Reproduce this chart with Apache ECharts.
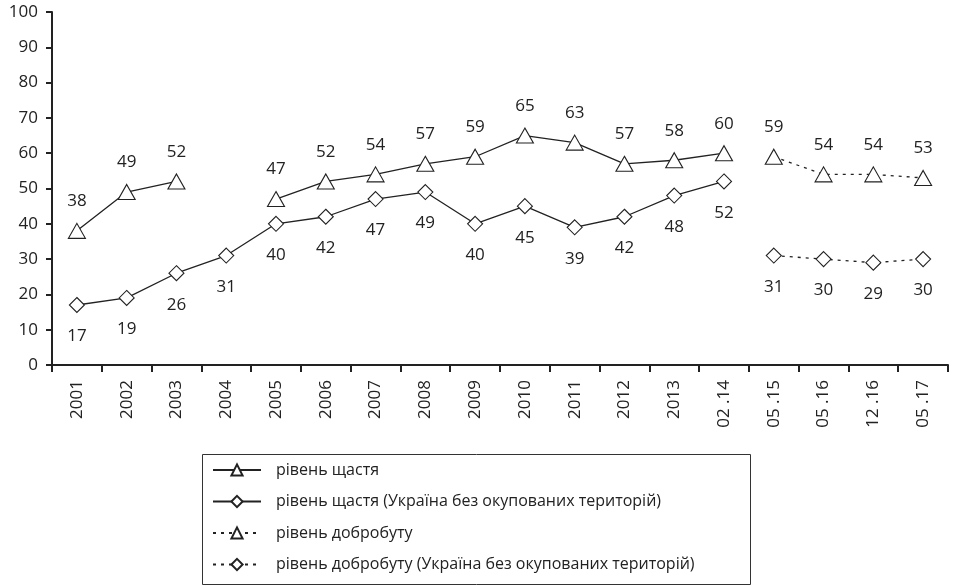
<!DOCTYPE html>
<html>
<head>
<meta charset="utf-8">
<script src="https://cdn.jsdelivr.net/npm/echarts@6/dist/echarts.min.js"></script>
<style>
  html, body { margin: 0; padding: 0; background: #fff; }
  #chart { width: 954px; height: 586px; }
</style>
</head>
<body>
<div id="chart"></div>
<script>
var categories = ["2001", "2002", "2003", "2004", "2005", "2006", "2007", "2008", "2009",
  "2010", "2011", "2012", "2013", "02 .14", "05 .15", "05 .16", "12 .16", "05 .17"];

// рівень щастя (solid, triangles)
var happiness = [38, 49, 52, null, 47, 52, 54, 57, 59, 65, 63, 57, 58, 60, null, null, null, null];
// рівень щастя (Україна без окупованих територій) (solid, diamonds)
var happinessNoOcc = [17, 19, 26, 31, 40, 42, 47, 49, 40, 45, 39, 42, 48, 52, null, null, null, null];
// рівень добробуту (dotted, triangles)
var wellbeing = [null, null, null, null, null, null, null, null, null, null, null, null, null, null, 59, 54, 54, 53];
// рівень добробуту (Україна без окупованих територій) (dotted, diamonds)
var wellbeingNoOcc = [null, null, null, null, null, null, null, null, null, null, null, null, null, null, 31, 30, 29, 30];

var seriesNames = [
  "рівень щастя",
  "рівень щастя (Україна без окупованих територій)",
  "рівень добробуту",
  "рівень добробуту (Україна без окупованих територій)"
];

var txt = "#222";
var font = "Open Sans";

function makeSeries(name, data, symbol, dotted, labelPos) {
  return {
    name: name,
    type: "line",
    data: data,
    connectNulls: false,
    symbol: symbol,
    symbolSize: symbol === "triangle" ? [17, 15] : 15,
    showAllSymbol: true,
    itemStyle: { color: "#fff", borderColor: "#222", borderWidth: 1.1 },
    lineStyle: { color: "#222", width: 1.3, type: dotted ? [3, 5] : "solid" },
    label: {
      show: true,
      position: labelPos,
      distance: labelPos === "top" ? 13 : 15,
      color: txt,
      fontFamily: font,
      fontSize: 17
    },
    emphasis: { disabled: true },
    animation: false
  };
}

var chart = echarts.init(document.getElementById("chart"));
var option = {
  backgroundColor: "#fff",
  animation: false,
  textStyle: { fontFamily: font },
  grid: { left: 52, right: 6, top: 12, bottom: 221, containLabel: false },
  // legend frame
  graphic: [{
    type: "rect",
    left: 200,
    top: 452,
    shape: { width: 548, height: 130 },
    style: { fill: "none", stroke: "#333", lineWidth: 1 },
    silent: true
  }],
  legend: {
    orient: "vertical",
    left: 200,
    top: 452,
    padding: [10, 12, 8, 12],
    itemWidth: 48,
    itemHeight: 14,
    itemGap: 15.5,
    data: seriesNames,
    textStyle: { color: txt, fontSize: 16, fontFamily: font, padding: [0, 0, 0, 10] }
  },
  xAxis: {
    type: "category",
    data: categories,
    boundaryGap: true,
    axisLine: { lineStyle: { color: "#222", width: 2 } },
    axisTick: { show: true, length: 7, lineStyle: { color: "#222", width: 2 } },
    axisLabel: { rotate: 90, color: txt, fontSize: 17, fontFamily: font, margin: 15, interval: 0 },
    splitLine: { show: false }
  },
  yAxis: {
    type: "value",
    min: 0,
    max: 100,
    interval: 10,
    axisLine: { show: true, lineStyle: { color: "#222", width: 2 } },
    axisTick: { show: true, length: 6, lineStyle: { color: "#222", width: 2 } },
    axisLabel: { color: txt, fontSize: 17, fontFamily: font, margin: 14 },
    splitLine: { show: false }
  },
  series: [
    makeSeries(seriesNames[0], happiness, "triangle", false, "top"),
    makeSeries(seriesNames[1], happinessNoOcc, "diamond", false, "bottom"),
    makeSeries(seriesNames[2], wellbeing, "triangle", true, "top"),
    makeSeries(seriesNames[3], wellbeingNoOcc, "diamond", true, "bottom")
  ]
};
chart.setOption(option);
</script>
</body>
</html>
